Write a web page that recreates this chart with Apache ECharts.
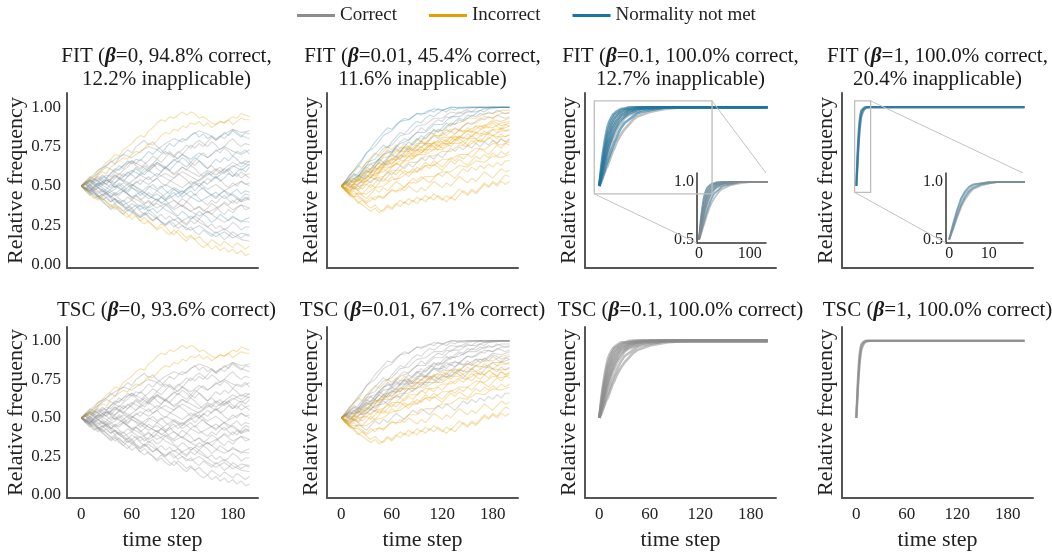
<!DOCTYPE html>
<html><head><meta charset="utf-8">
<script src="https://cdn.jsdelivr.net/npm/echarts@6/dist/echarts.min.js"></script>
<style>html,body{margin:0;padding:0;background:#fff}#c{width:1052px;height:552px}</style>
</head><body><div id="c"></div>
<script>
// ---------------- DATA ----------------
const legendNames = ['Correct', 'Incorrect', 'Normality not met'];
const panelTitles = [
  'FIT ({b|β}=0, 94.8% correct,\n12.2% inapplicable)',
  'FIT ({b|β}=0.01, 45.4% correct,\n11.6% inapplicable)',
  'FIT ({b|β}=0.1, 100.0% correct,\n12.7% inapplicable)',
  'FIT ({b|β}=1, 100.0% correct,\n20.4% inapplicable)',
  'TSC ({b|β}=0, 93.6% correct)',
  'TSC ({b|β}=0.01, 67.1% correct)',
  'TSC ({b|β}=0.1, 100.0% correct)',
  'TSC ({b|β}=1, 100.0% correct)'
];
const xTicks = [0, 60, 120, 180];
const yTicks = [0, 0.25, 0.5, 0.75, 1.0];
const insetYTicks = [0.5, 1.0];
const inset3XTicks = [0, 100];
const inset4XTicks = [0, 10];

// time steps of the random-walk trajectories (beta = 0 and beta = 0.01)
const tWalk = [0,5,10,15,20,25,30,35,40,45,50,55,60,65,70,75,80,85,90,95,100,105,110,115,120,125,130,135,140,145,150,155,160,165,170,175,180,185,190,195,200];
const tWalk10 = [0,10,20,30,40,50,60,70,80,90,100,110,120,130,140,150,160,170,180,190,200];

// beta = 0 trajectories (shared by FIT and TSC panels)
const walksBeta0 = [
 [0.50,0.52,0.55,0.56,0.60,0.62,0.65,0.67,0.70,0.69, 0.73,0.75,0.77,0.80,0.82,0.81,0.85,0.87,0.90,0.92, 0.91,0.94,0.93,0.95,0.97,0.95,0.97,0.96,0.93,0.94, 0.92,0.90,0.89,0.91,0.90,0.92,0.94,0.93,0.96,0.95, 0.94],
 [0.50,0.51,0.54,0.53,0.57,0.59,0.58,0.62,0.64,0.66, 0.68,0.67,0.70,0.72,0.71,0.74,0.77,0.76,0.79,0.82, 0.84,0.83,0.86,0.85,0.88,0.87,0.90,0.89,0.91,0.88, 0.90,0.87,0.89,0.91,0.90,0.92,0.89,0.91,0.93,0.92, 0.92],
 [0.50,0.48,0.51,0.54,0.53,0.56,0.55,0.58,0.61,0.60, 0.63,0.66,0.64,0.67,0.66,0.69,0.72,0.70,0.73,0.71, 0.74,0.77,0.75,0.78,0.80,0.79,0.82,0.84,0.81,0.83, 0.80,0.82,0.79,0.81,0.84,0.82,0.85,0.83,0.81,0.84, 0.83],
 [0.50,0.53,0.51,0.49,0.52,0.55,0.57,0.56,0.59,0.57, 0.60,0.62,0.65,0.63,0.61,0.64,0.66,0.69,0.67,0.70, 0.72,0.70,0.68,0.71,0.73,0.76,0.74,0.77,0.79,0.77, 0.75,0.78,0.76,0.73,0.75,0.78,0.80,0.77,0.75,0.77, 0.76],
 [0.50,0.49,0.47,0.50,0.52,0.51,0.54,0.52,0.55,0.58, 0.56,0.59,0.57,0.55,0.58,0.61,0.59,0.62,0.65,0.63, 0.61,0.64,0.67,0.65,0.68,0.66,0.63,0.66,0.69,0.71, 0.68,0.70,0.73,0.71,0.74,0.72,0.69,0.72,0.71,0.73, 0.70],
 [0.50,0.52,0.54,0.52,0.50,0.53,0.51,0.49,0.52,0.55, 0.53,0.56,0.58,0.61,0.59,0.57,0.60,0.58,0.56,0.59, 0.62,0.60,0.63,0.66,0.64,0.62,0.65,0.68,0.66,0.63, 0.61,0.64,0.67,0.65,0.68,0.66,0.69,0.67,0.64,0.66, 0.65],
 [0.50,0.51,0.49,0.52,0.54,0.57,0.55,0.58,0.60,0.63, 0.61,0.64,0.66,0.64,0.67,0.65,0.62,0.64,0.61,0.59, 0.62,0.60,0.57,0.59,0.62,0.60,0.63,0.61,0.58,0.56, 0.59,0.57,0.60,0.62,0.59,0.61,0.58,0.56,0.59,0.57, 0.58],
 [0.50,0.48,0.50,0.47,0.49,0.46,0.48,0.51,0.49,0.52, 0.50,0.47,0.50,0.53,0.51,0.54,0.56,0.53,0.55,0.52, 0.50,0.53,0.55,0.58,0.56,0.54,0.51,0.53,0.50,0.52, 0.55,0.53,0.56,0.54,0.51,0.49,0.52,0.50,0.53,0.51, 0.52],
 [0.50,0.51,0.53,0.55,0.53,0.51,0.54,0.52,0.49,0.51, 0.48,0.46,0.49,0.47,0.44,0.46,0.49,0.51,0.48,0.50, 0.47,0.45,0.48,0.46,0.43,0.45,0.47,0.44,0.47,0.49, 0.46,0.44,0.42,0.45,0.47,0.44,0.46,0.48,0.45,0.47, 0.46],
 [0.50,0.49,0.51,0.48,0.46,0.48,0.45,0.43,0.46,0.44, 0.47,0.45,0.42,0.44,0.41,0.43,0.46,0.44,0.47,0.45, 0.42,0.44,0.41,0.39,0.42,0.40,0.43,0.45,0.42,0.40, 0.38,0.41,0.39,0.42,0.44,0.41,0.39,0.42,0.40,0.43, 0.41],
 [0.50,0.48,0.46,0.49,0.47,0.44,0.46,0.43,0.45,0.42, 0.40,0.43,0.41,0.44,0.42,0.39,0.41,0.38,0.40,0.43, 0.41,0.38,0.36,0.39,0.37,0.40,0.38,0.35,0.37,0.34, 0.36,0.39,0.37,0.34,0.32,0.35,0.33,0.36,0.38,0.35, 0.36],
 [0.50,0.47,0.49,0.46,0.44,0.41,0.43,0.40,0.42,0.39, 0.41,0.38,0.36,0.38,0.35,0.37,0.34,0.36,0.33,0.35, 0.38,0.36,0.33,0.31,0.34,0.32,0.29,0.31,0.34,0.32, 0.30,0.27,0.29,0.32,0.30,0.28,0.31,0.29,0.27,0.29, 0.30],
 [0.50,0.52,0.49,0.47,0.45,0.47,0.44,0.42,0.39,0.41, 0.38,0.36,0.39,0.37,0.34,0.32,0.35,0.33,0.30,0.32, 0.29,0.31,0.28,0.30,0.27,0.25,0.28,0.26,0.29,0.27, 0.24,0.26,0.23,0.25,0.22,0.24,0.27,0.25,0.22,0.24, 0.24],
 [0.50,0.48,0.45,0.47,0.44,0.42,0.40,0.37,0.39,0.36, 0.34,0.37,0.35,0.32,0.30,0.33,0.31,0.28,0.30,0.27, 0.25,0.28,0.26,0.23,0.25,0.22,0.24,0.21,0.19,0.22, 0.20,0.18,0.21,0.19,0.16,0.18,0.21,0.19,0.17,0.19, 0.18],
 [0.50,0.47,0.45,0.42,0.44,0.41,0.38,0.36,0.38,0.35, 0.32,0.30,0.33,0.31,0.28,0.26,0.28,0.25,0.23,0.26, 0.24,0.21,0.19,0.22,0.20,0.17,0.19,0.16,0.18,0.15, 0.13,0.16,0.14,0.12,0.15,0.13,0.11,0.14,0.12,0.10, 0.12],
 [0.50,0.48,0.46,0.43,0.41,0.43,0.40,0.38,0.35,0.37, 0.34,0.32,0.29,0.31,0.28,0.30,0.27,0.25,0.22,0.24, 0.21,0.19,0.22,0.20,0.17,0.15,0.18,0.16,0.13,0.11, 0.13,0.10,0.12,0.09,0.11,0.08,0.10,0.07,0.09,0.06, 0.07],
 [0.50,0.53,0.56,0.54,0.58,0.61,0.63,0.66,0.64,0.68, 0.70,0.73,0.71,0.75,0.77,0.79,0.76,0.78,0.75,0.73, 0.70,0.72,0.69,0.67,0.70,0.68,0.65,0.63,0.66,0.64, 0.61,0.63,0.60,0.58,0.61,0.59,0.56,0.58,0.55,0.57, 0.55],
 [0.50,0.47,0.44,0.46,0.43,0.40,0.38,0.35,0.37,0.34, 0.32,0.35,0.33,0.36,0.38,0.35,0.37,0.40,0.42,0.39, 0.41,0.44,0.46,0.43,0.45,0.48,0.50,0.47,0.50,0.53, 0.51,0.54,0.56,0.53,0.55,0.58,0.56,0.59,0.61,0.59, 0.62],
 [0.50,0.52,0.50,0.53,0.55,0.53,0.51,0.54,0.57,0.55, 0.58,0.56,0.59,0.62,0.60,0.63,0.61,0.64,0.67,0.65, 0.68,0.71,0.69,0.72,0.70,0.73,0.76,0.74,0.77,0.75, 0.78,0.81,0.79,0.82,0.80,0.83,0.86,0.84,0.82,0.81, 0.80],
 [0.50,0.51,0.48,0.46,0.43,0.45,0.42,0.40,0.42,0.39, 0.37,0.34,0.36,0.33,0.31,0.33,0.30,0.28,0.30,0.27, 0.25,0.27,0.24,0.26,0.28,0.26,0.29,0.31,0.29,0.32, 0.34,0.32,0.35,0.37,0.40,0.38,0.41,0.39,0.42,0.45, 0.44]
];
const classFIT0 = ['o','o','b','c','c','b','c','c','b','c','c','b','c','c','o','o','c','b','c','c'];
const classTSC0 = ['o','o','c','c','c','c','c','c','c','c','c','c','c','c','c','c','c','c','c','c'];
// further beta = 0 trajectories, read every 10 steps
const walksBeta0b = [
 [0.50,0.55,0.60,0.63,0.67,0.70,0.68,0.72,0.75,0.73,0.77,0.80,0.78,0.82,0.85,0.83,0.80,0.83,0.86,0.84,0.85],
 [0.50,0.47,0.51,0.55,0.52,0.56,0.60,0.57,0.61,0.65,0.62,0.66,0.70,0.67,0.71,0.68,0.72,0.75,0.72,0.70,0.73],
 [0.50,0.53,0.49,0.52,0.56,0.53,0.50,0.54,0.51,0.55,0.58,0.55,0.59,0.56,0.53,0.57,0.61,0.58,0.62,0.65,0.63],
 [0.50,0.46,0.49,0.45,0.48,0.52,0.49,0.46,0.50,0.47,0.51,0.48,0.45,0.49,0.52,0.48,0.51,0.47,0.50,0.53,0.50],
 [0.50,0.54,0.51,0.47,0.44,0.47,0.43,0.46,0.42,0.45,0.41,0.44,0.47,0.43,0.40,0.43,0.46,0.42,0.45,0.41,0.43],
 [0.50,0.47,0.43,0.46,0.42,0.38,0.41,0.37,0.40,0.36,0.39,0.35,0.38,0.34,0.37,0.33,0.36,0.39,0.35,0.38,0.36],
 [0.50,0.52,0.56,0.53,0.57,0.54,0.51,0.47,0.44,0.41,0.38,0.41,0.37,0.34,0.31,0.34,0.30,0.27,0.30,0.28,0.27],
 [0.50,0.46,0.42,0.45,0.41,0.37,0.34,0.30,0.33,0.29,0.26,0.29,0.25,0.22,0.25,0.21,0.18,0.21,0.17,0.20,0.19],
 [0.50,0.54,0.58,0.62,0.59,0.63,0.66,0.63,0.60,0.64,0.61,0.58,0.62,0.59,0.56,0.60,0.57,0.61,0.65,0.62,0.66],
 [0.50,0.48,0.52,0.49,0.45,0.49,0.53,0.57,0.54,0.58,0.55,0.52,0.49,0.53,0.50,0.46,0.43,0.47,0.44,0.40,0.42],
 [0.50,0.53,0.49,0.46,0.50,0.47,0.51,0.48,0.44,0.41,0.45,0.49,0.46,0.50,0.54,0.58,0.55,0.59,0.63,0.60,0.64],
 [0.50,0.47,0.50,0.54,0.51,0.47,0.43,0.40,0.36,0.39,0.35,0.32,0.28,0.31,0.27,0.24,0.20,0.23,0.19,0.16,0.15]
];
const classFIT0b = ['c','b','c','c','b','c','c','b','c','c','b','c'];
const classTSC0b = ['c','c','c','c','c','c','c','c','c','c','c','c'];

// beta = 0.01 trajectories (shared by FIT and TSC panels)
const walksBeta001 = [
 [0.50,0.53,0.57,0.60,0.64,0.67,0.71,0.74,0.78,0.81, 0.84,0.87,0.86,0.89,0.91,0.93,0.92,0.94,0.96,0.95, 0.97,0.98,0.97,0.99,0.98,0.99,1.00,1.00,0.99,1.00, 1.00,1.00,1.00,1.00,1.00,1.00,1.00,1.00,1.00,1.00, 1.00],
 [0.50,0.52,0.55,0.58,0.56,0.60,0.63,0.67,0.70,0.73, 0.76,0.74,0.78,0.81,0.84,0.83,0.86,0.89,0.91,0.90, 0.93,0.95,0.94,0.96,0.98,0.97,0.99,0.98,1.00,0.99, 1.00,1.00,1.00,1.00,1.00,1.00,1.00,1.00,1.00,1.00, 1.00],
 [0.50,0.51,0.54,0.52,0.56,0.59,0.62,0.60,0.64,0.67, 0.70,0.73,0.71,0.75,0.78,0.80,0.79,0.82,0.84,0.87, 0.85,0.88,0.90,0.92,0.91,0.94,0.93,0.95,0.97,0.96, 0.98,0.97,0.99,1.00,0.99,1.00,1.00,1.00,1.00,1.00, 1.00],
 [0.50,0.49,0.52,0.55,0.53,0.57,0.60,0.58,0.62,0.65, 0.63,0.67,0.70,0.68,0.72,0.75,0.73,0.77,0.80,0.78, 0.82,0.84,0.83,0.86,0.85,0.88,0.90,0.89,0.92,0.91, 0.93,0.95,0.94,0.96,0.95,0.97,0.96,0.98,0.97,0.96, 0.97],
 [0.50,0.52,0.50,0.48,0.51,0.54,0.57,0.55,0.59,0.62, 0.65,0.63,0.66,0.69,0.67,0.71,0.74,0.72,0.75,0.78, 0.76,0.79,0.82,0.80,0.83,0.86,0.84,0.87,0.85,0.88, 0.90,0.89,0.91,0.93,0.92,0.94,0.93,0.95,0.94,0.93, 0.94],
 [0.50,0.48,0.51,0.49,0.47,0.50,0.53,0.56,0.54,0.58, 0.61,0.59,0.62,0.65,0.63,0.66,0.69,0.67,0.70,0.73, 0.71,0.74,0.77,0.75,0.78,0.76,0.79,0.82,0.80,0.83, 0.85,0.84,0.86,0.88,0.87,0.89,0.91,0.90,0.88,0.89, 0.90],
 [0.50,0.47,0.49,0.52,0.55,0.53,0.56,0.59,0.62,0.60, 0.63,0.66,0.64,0.67,0.70,0.68,0.71,0.69,0.72,0.75, 0.73,0.76,0.74,0.77,0.80,0.78,0.81,0.79,0.82,0.80, 0.83,0.81,0.84,0.82,0.85,0.83,0.86,0.84,0.87,0.85, 0.86],
 [0.50,0.52,0.54,0.57,0.55,0.58,0.61,0.64,0.62,0.66, 0.69,0.72,0.70,0.73,0.71,0.74,0.72,0.70,0.73,0.71, 0.74,0.77,0.75,0.73,0.76,0.79,0.77,0.80,0.78,0.76, 0.79,0.82,0.80,0.78,0.81,0.84,0.82,0.80,0.83,0.81, 0.83],
 [0.50,0.49,0.47,0.50,0.48,0.51,0.54,0.52,0.55,0.53, 0.56,0.59,0.57,0.60,0.63,0.61,0.64,0.62,0.65,0.68, 0.66,0.69,0.67,0.70,0.68,0.71,0.74,0.72,0.75,0.73, 0.76,0.74,0.77,0.75,0.78,0.76,0.79,0.77,0.80,0.78, 0.80],
 [0.50,0.48,0.46,0.49,0.47,0.45,0.48,0.51,0.49,0.52, 0.55,0.53,0.56,0.54,0.57,0.60,0.58,0.61,0.59,0.62, 0.65,0.63,0.66,0.64,0.62,0.65,0.68,0.66,0.69,0.67, 0.70,0.68,0.71,0.74,0.72,0.70,0.73,0.76,0.74,0.77, 0.76],
 [0.50,0.51,0.49,0.52,0.50,0.48,0.51,0.49,0.52,0.55, 0.53,0.56,0.59,0.57,0.60,0.58,0.56,0.59,0.62,0.60, 0.63,0.61,0.64,0.62,0.60,0.63,0.66,0.64,0.67,0.65, 0.63,0.66,0.69,0.67,0.70,0.68,0.71,0.69,0.72,0.70, 0.72],
 [0.50,0.47,0.45,0.43,0.46,0.44,0.42,0.45,0.48,0.46, 0.49,0.47,0.50,0.53,0.51,0.49,0.52,0.55,0.53,0.56, 0.54,0.52,0.55,0.58,0.56,0.59,0.57,0.55,0.58,0.61, 0.59,0.62,0.60,0.63,0.61,0.64,0.62,0.65,0.63,0.66, 0.66],
 [0.50,0.48,0.45,0.47,0.44,0.42,0.40,0.43,0.41,0.44, 0.42,0.45,0.48,0.46,0.49,0.47,0.50,0.48,0.46,0.49, 0.47,0.50,0.53,0.51,0.49,0.52,0.50,0.53,0.56,0.54, 0.52,0.55,0.53,0.56,0.59,0.57,0.55,0.58,0.61,0.59, 0.60],
 [0.50,0.47,0.44,0.42,0.39,0.41,0.38,0.36,0.38,0.35, 0.34,0.37,0.35,0.38,0.41,0.39,0.42,0.40,0.43,0.41, 0.44,0.42,0.45,0.43,0.41,0.44,0.42,0.45,0.48,0.46, 0.44,0.47,0.45,0.48,0.51,0.49,0.52,0.50,0.53,0.51, 0.53],
 [0.50,0.52,0.49,0.51,0.54,0.52,0.55,0.58,0.56,0.59, 0.62,0.65,0.68,0.66,0.69,0.72,0.75,0.73,0.76,0.79, 0.77,0.80,0.83,0.81,0.84,0.82,0.85,0.83,0.86,0.84, 0.87,0.85,0.88,0.86,0.89,0.87,0.90,0.88,0.86,0.89, 0.88],
 [0.50,0.53,0.51,0.54,0.57,0.55,0.58,0.61,0.64,0.67, 0.65,0.68,0.71,0.74,0.72,0.75,0.78,0.76,0.79,0.82, 0.80,0.83,0.86,0.84,0.87,0.90,0.88,0.91,0.93,0.92, 0.95,0.94,0.96,0.98,0.97,0.99,1.00,1.00,1.00,1.00, 1.00],
 [0.50,0.53,0.56,0.60,0.63,0.61,0.65,0.68,0.71,0.69, 0.72,0.75,0.73,0.76,0.74,0.77,0.75,0.73,0.76,0.74, 0.77,0.75,0.78,0.76,0.74,0.77,0.75,0.78,0.80,0.78, 0.76,0.79,0.77,0.80,0.78,0.81,0.79,0.77,0.80,0.78, 0.79],
 [0.50,0.48,0.45,0.43,0.40,0.38,0.36,0.34,0.36,0.33, 0.35,0.38,0.36,0.39,0.37,0.40,0.38,0.41,0.39,0.42, 0.40,0.43,0.41,0.44,0.42,0.40,0.43,0.41,0.44,0.47, 0.45,0.48,0.46,0.49,0.52,0.50,0.53,0.51,0.54,0.57, 0.56]
];
const classFIT001 = ['b','b','c','b','c','o','o','o','c','o','o','o','o','o','o','b','o','o'];
const classTSC001 = ['c','c','c','c','c','c','o','c','o','o','o','c','o','o','c','c','o','o'];
// further beta = 0.01 trajectories, read every 10 steps
const walksBeta001b = [
 [0.50,0.57,0.62,0.71,0.75,0.82,0.85,0.91,0.92,0.96,0.96,0.99,0.98,1.00,1.00,1.00,1.00,1.00,1.00,1.00,1.00],
 [0.50,0.55,0.58,0.65,0.67,0.74,0.76,0.82,0.83,0.88,0.89,0.93,0.93,0.97,0.96,0.99,1.00,1.00,1.00,1.00,1.00],
 [0.50,0.54,0.56,0.63,0.65,0.70,0.72,0.77,0.79,0.84,0.84,0.89,0.89,0.94,0.94,0.97,0.97,0.99,0.99,1.00,1.00],
 [0.50,0.53,0.55,0.60,0.62,0.68,0.69,0.74,0.75,0.80,0.80,0.85,0.85,0.89,0.90,0.93,0.93,0.96,0.96,0.98,0.98],
 [0.50,0.52,0.54,0.59,0.60,0.65,0.67,0.72,0.72,0.77,0.77,0.82,0.82,0.86,0.86,0.90,0.90,0.94,0.93,0.96,0.96],
 [0.50,0.48,0.54,0.55,0.61,0.62,0.67,0.67,0.72,0.73,0.77,0.77,0.81,0.81,0.85,0.85,0.88,0.88,0.92,0.91,0.93],
 [0.50,0.53,0.53,0.59,0.59,0.64,0.64,0.69,0.69,0.73,0.73,0.78,0.78,0.81,0.81,0.85,0.84,0.87,0.87,0.90,0.91],
 [0.50,0.47,0.52,0.53,0.58,0.59,0.63,0.64,0.69,0.69,0.73,0.73,0.77,0.77,0.81,0.80,0.84,0.83,0.86,0.86,0.88],
 [0.50,0.51,0.51,0.56,0.57,0.62,0.62,0.66,0.66,0.70,0.70,0.73,0.73,0.77,0.77,0.80,0.80,0.83,0.82,0.85,0.85],
 [0.50,0.46,0.50,0.51,0.55,0.56,0.60,0.60,0.65,0.65,0.69,0.69,0.72,0.72,0.76,0.75,0.79,0.78,0.82,0.81,0.82],
 [0.50,0.45,0.45,0.45,0.49,0.50,0.54,0.55,0.59,0.59,0.63,0.63,0.67,0.67,0.70,0.70,0.74,0.73,0.77,0.76,0.78],
 [0.50,0.44,0.43,0.39,0.43,0.43,0.47,0.47,0.52,0.52,0.56,0.56,0.59,0.59,0.63,0.62,0.66,0.65,0.69,0.68,0.70]
];
const classFIT001b = ['b','c','b','o','o','o','o','o','o','o','o','o'];
const classTSC001b = ['c','c','c','c','c','c','o','c','o','o','o','o'];

// beta = 0.1 trajectories
const tBeta01 = [0,2,4,6,8,10,12,14,16,18,20,23,26,30,35,40,45,50,60,70,80,100,130,160,200];
const curvesBeta01 = [
 [0.50,0.61,0.70,0.77,0.83,0.88,0.91,0.93,0.95,0.96,0.97,0.98,0.99,0.99,1.00,1.00,1.00,1.00,1.00,1.00,1.00,1.00,1.00,1.00,1.00],
 [0.50,0.59,0.68,0.74,0.80,0.85,0.88,0.91,0.93,0.95,0.96,0.97,0.98,0.99,0.99,1.00,1.00,1.00,1.00,1.00,1.00,1.00,1.00,1.00,1.00],
 [0.50,0.58,0.65,0.72,0.77,0.82,0.85,0.89,0.91,0.93,0.94,0.96,0.97,0.98,0.99,0.99,1.00,1.00,1.00,1.00,1.00,1.00,1.00,1.00,1.00],
 [0.50,0.57,0.63,0.69,0.75,0.79,0.83,0.86,0.89,0.91,0.93,0.95,0.96,0.97,0.98,0.99,0.99,1.00,1.00,1.00,1.00,1.00,1.00,1.00,1.00],
 [0.50,0.56,0.62,0.67,0.72,0.77,0.80,0.84,0.87,0.89,0.91,0.93,0.95,0.96,0.98,0.98,0.99,0.99,1.00,1.00,1.00,1.00,1.00,1.00,1.00],
 [0.50,0.55,0.61,0.65,0.70,0.74,0.78,0.81,0.84,0.87,0.89,0.92,0.94,0.95,0.97,0.98,0.99,0.99,1.00,1.00,1.00,1.00,1.00,1.00,1.00],
 [0.50,0.55,0.59,0.64,0.68,0.72,0.76,0.79,0.82,0.85,0.87,0.90,0.92,0.94,0.96,0.97,0.98,0.99,0.99,1.00,1.00,1.00,1.00,1.00,1.00],
 [0.50,0.54,0.58,0.62,0.66,0.70,0.73,0.77,0.80,0.82,0.85,0.88,0.90,0.93,0.95,0.96,0.97,0.98,0.99,0.99,1.00,1.00,1.00,1.00,1.00],
 [0.50,0.53,0.56,0.59,0.63,0.66,0.69,0.72,0.75,0.78,0.80,0.84,0.87,0.90,0.92,0.94,0.96,0.97,0.98,0.99,1.00,1.00,1.00,1.00,1.00],
 [0.50,0.52,0.55,0.58,0.61,0.63,0.66,0.69,0.72,0.74,0.77,0.80,0.83,0.86,0.89,0.92,0.94,0.95,0.97,0.98,0.99,1.00,1.00,1.00,1.00]
];
const classFIT01 = ['b','c','b','c','b','c','b','c','b','c'];
const classTSC01 = ['c','c','c','c','c','c','c','c','c','c'];

// beta = 1 trajectories
const tBeta1 = [0,1,2,3,4,5,6,8,10,12,15,20,30,50,100,200];
const curvesBeta1 = [
 [0.50,0.64,0.76,0.86,0.92,0.96,0.98,0.99,1.00,1.00,1.00,1.00,1.00,1.00,1.00,1.00],
 [0.50,0.62,0.74,0.83,0.90,0.94,0.97,0.99,1.00,1.00,1.00,1.00,1.00,1.00,1.00,1.00],
 [0.50,0.60,0.71,0.80,0.87,0.92,0.95,0.98,0.99,1.00,1.00,1.00,1.00,1.00,1.00,1.00],
 [0.50,0.59,0.69,0.78,0.85,0.90,0.94,0.97,0.99,1.00,1.00,1.00,1.00,1.00,1.00,1.00]
];
const classFIT1 = ['b','c','b','c'];
const classTSC1 = ['c','c','c','c'];

// zoomed regions (data coordinates) shown in the insets
const zoom3X = [-6, 134], zoom3Y = [0.45, 1.04];
const zoom4X = [-2, 17],  zoom4Y = [0.46, 1.04];
const inset3X = [-4, 132], inset4X = [-0.8, 18.6], insetY = [0.47, 1.08];

// ---------------- CHART ----------------
const FONT = 'Liberation Serif';
const COLORS = {c: '#8c8c8c', o: '#E69F00', b: '#1b74a0'};
const NAME = {c: legendNames[0], o: legendNames[1], b: legendNames[2]};

const panelLeft = [67, 327, 585, 842];
const panelW = 191;
const rowTop = [93, 327];
const rowH = 175;
const X_RANGE = [-17, 210];
const Y_RANGE = [-0.02, 1.09];

const grids = [], xAxes = [], yAxes = [], titles = [], series = [];

for (let r = 0; r < 2; r++) {
  for (let c = 0; c < 4; c++) {
    const gi = r * 4 + c;
    grids.push({left: panelLeft[c], top: rowTop[r], width: panelW, height: rowH, containLabel: false});
    xAxes.push({
      gridIndex: gi, type: 'value', min: X_RANGE[0], max: X_RANGE[1],
      axisLine: {show: true, onZero: false, lineStyle: {color: '#555', width: 2}},
      axisTick: {show: false}, splitLine: {show: false},
      axisLabel: r === 1 ? {customValues: xTicks, fontFamily: FONT, fontSize: 17, color: '#222', margin: 8} : {show: false},
      name: r === 1 ? 'time step' : '', nameLocation: 'middle', nameGap: 31,
      nameTextStyle: {fontFamily: FONT, fontSize: 22, color: '#222'}
    });
    yAxes.push({
      gridIndex: gi, type: 'value', min: Y_RANGE[0], max: Y_RANGE[1],
      axisLine: {show: true, onZero: false, lineStyle: {color: '#555', width: 2}},
      axisTick: {show: false}, splitLine: {show: false},
      axisLabel: c === 0 ? {customValues: yTicks, formatter: v => v.toFixed(2), fontFamily: FONT, fontSize: 17, color: '#222', margin: 6} : {show: false},
      name: 'Relative frequency', nameLocation: 'middle', nameGap: c === 0 ? 30 : 5,
      nameTextStyle: {fontFamily: FONT, fontSize: 22, color: '#222'}
    });
    titles.push({
      text: panelTitles[gi], left: panelLeft[c] + panelW / 2 + (c === 0 ? 4 : 0), top: r === 0 ? 45 : 299, textAlign: 'center', padding: 0,
      textStyle: {fontFamily: FONT, fontSize: 21, fontWeight: 'normal', color: '#1a1a1a', lineHeight: 23,
        rich: {b: {fontFamily: FONT, fontSize: 21, fontWeight: 'bold', fontStyle: 'italic', color: '#1a1a1a', lineHeight: 23}}}
    });
  }
}
// insets (grid 8: for panel 3, grid 9: for panel 4)
const insetDefs = [
  {left: 697, top: 173, width: 69, height: 70, xr: inset3X, xt: inset3XTicks},
  {left: 946, top: 173, width: 77, height: 70, xr: inset4X, xt: inset4XTicks}
];
insetDefs.forEach((d, k) => {
  const gi = 8 + k;
  grids.push({left: d.left, top: d.top, width: d.width, height: d.height});
  xAxes.push({gridIndex: gi, type: 'value', min: d.xr[0], max: d.xr[1],
    axisLine: {show: true, onZero: false, lineStyle: {color: '#333', width: 1.5}},
    axisTick: {show: false}, splitLine: {show: false},
    axisLabel: {customValues: d.xt, fontFamily: FONT, fontSize: 16, color: '#222', margin: 3}});
  yAxes.push({gridIndex: gi, type: 'value', min: insetY[0], max: insetY[1],
    axisLine: {show: true, onZero: false, lineStyle: {color: '#333', width: 1.5}},
    axisTick: {show: false}, splitLine: {show: false},
    axisLabel: {customValues: insetYTicks, formatter: v => v.toFixed(1), fontFamily: FONT, fontSize: 16, color: '#222', margin: 3}});
});

// legend proxies
['c', 'o', 'b'].forEach(k => series.push({type: 'line', name: NAME[k], data: [], xAxisIndex: 0, yAxisIndex: 0,
  itemStyle: {color: COLORS[k]}, lineStyle: {color: COLORS[k], width: 3}}));

// each entry: [times, trajectories, classes]
function addPanel(gi, sets, order, width, opacity) {
  order.forEach(k => {
    sets.forEach(([times, lines, cls]) => {
      lines.forEach((ln, i) => {
        if (cls[i] !== k) return;
        series.push({
          type: 'line', name: NAME[k], xAxisIndex: gi, yAxisIndex: gi,
          data: times.map((t, j) => [t, ln[j]]),
          showSymbol: false, symbol: 'none', silent: true, clip: true,
          lineStyle: {color: COLORS[k], width: width, opacity: opacity[k]},
          itemStyle: {color: COLORS[k]}, emphasis: {disabled: true}
        });
      });
    });
  });
}
const opWalk = {c: 0.32, b: 0.26, o: 0.32};
const opSat = {c: 0.55, b: 0.6, o: 0.55};
addPanel(0, [[tWalk, walksBeta0, classFIT0], [tWalk10, walksBeta0b, classFIT0b]], ['b', 'c', 'o'], 1.1, opWalk);
addPanel(1, [[tWalk, walksBeta001, classFIT001], [tWalk10, walksBeta001b, classFIT001b]], ['c', 'b', 'o'], 1.1, opWalk);
addPanel(2, [[tBeta01, curvesBeta01, classFIT01]], ['c', 'b'], 2.6, opSat);
addPanel(3, [[tBeta1, curvesBeta1, classFIT1]], ['c', 'b'], 2.2, opSat);
addPanel(4, [[tWalk, walksBeta0, classTSC0], [tWalk10, walksBeta0b, classTSC0b]], ['c', 'o'], 1.1, opWalk);
addPanel(5, [[tWalk, walksBeta001, classTSC001], [tWalk10, walksBeta001b, classTSC001b]], ['c', 'o'], 1.1, opWalk);
addPanel(6, [[tBeta01, curvesBeta01, classTSC01]], ['c'], 2.6, opSat);
addPanel(7, [[tBeta1, curvesBeta1, classTSC1]], ['c'], 2.2, opSat);
addPanel(8, [[tBeta01, curvesBeta01, classFIT01]], ['b', 'c'], 1.8, opSat);
addPanel(9, [[tBeta1, curvesBeta1, classFIT1]], ['b', 'c'], 1.8, opSat);

const chart = echarts.init(document.getElementById('c'), null, {renderer: 'canvas'});
chart.setOption({
  animation: false,
  backgroundColor: '#fff',
  title: titles,
  legend: {
    data: legendNames, top: 6, left: 297, padding: 0, icon: 'rect', itemWidth: 38, itemHeight: 3, itemGap: 32,
    itemStyle: {opacity: 1}, textStyle: {fontFamily: FONT, fontSize: 19, color: '#222'}
  },
  grid: grids, xAxis: xAxes, yAxis: yAxes, series: series
});

// zoom boxes and connector lines, positioned through the axes' own scales
function px(gi, x, y) { return chart.convertToPixel({gridIndex: gi}, [x, y]); }
const graphics = [];
[[2, 8, zoom3X, zoom3Y, inset3X], [3, 9, zoom4X, zoom4Y, inset4X]].forEach(([g, ig, zx, zy, ix]) => {
  const a = px(g, zx[0], zy[1]), b = px(g, zx[1], zy[0]);
  graphics.push({type: 'rect', silent: true, z: 10,
    shape: {x: a[0], y: a[1], width: b[0] - a[0], height: b[1] - a[1]},
    style: {fill: 'none', stroke: '#bdbdbd', lineWidth: 1.3}});
  const bl = px(g, zx[0], zy[0]), tr = px(g, zx[1], zy[1]);
  const ibl = px(ig, ix[0], insetY[0]), itr = px(ig, ix[1], insetY[1]);
  graphics.push({type: 'line', silent: true, z: 10, shape: {x1: bl[0], y1: bl[1], x2: ibl[0], y2: ibl[1]}, style: {stroke: '#c4c4c4', lineWidth: 1}});
  graphics.push({type: 'line', silent: true, z: 10, shape: {x1: tr[0], y1: tr[1], x2: itr[0], y2: itr[1]}, style: {stroke: '#c4c4c4', lineWidth: 1}});
});
chart.setOption({graphic: graphics});
</script>
</body></html>
